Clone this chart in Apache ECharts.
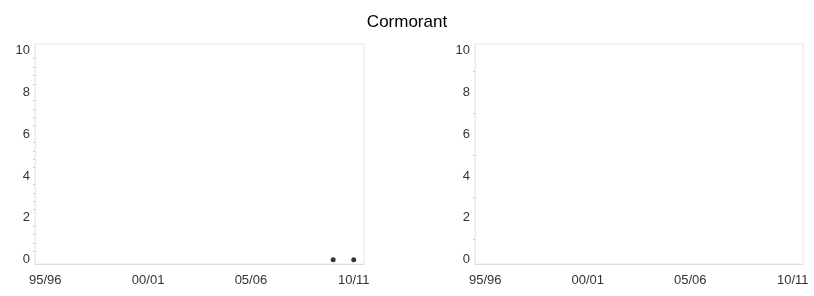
<!DOCTYPE html>
<html>
<head>
<meta charset="utf-8">
<script src="https://cdn.jsdelivr.net/npm/echarts@6/dist/echarts.min.js"></script>
<style>
  html, body { margin: 0; padding: 0; background: #fff; }
  #chart { width: 814px; height: 296px; }
</style>
</head>
<body>
<div id="chart"></div>
<script>
// seasons on the x axis
const seasons = ['95/96', '96/97', '97/98', '98/99', '99/00', '00/01', '01/02', '02/03',
  '03/04', '04/05', '05/06', '06/07', '07/08', '08/09', '09/10', '10/11'];
// counts per season (left panel has two points, right panel none)
const leftValues = [null, null, null, null, null, null, null, null,
  null, null, null, null, null, null, 0, 0];
const rightValues = [null, null, null, null, null, null, null, null,
  null, null, null, null, null, null, null, null];
const titleText = 'Cormorant';

const FONT = 'Liberation Sans, Arial, sans-serif';
const FRAME = '#e6e6e6';

const xAxisFor = (gridIndex) => ({
  type: 'category',
  gridIndex,
  data: seasons,
  boundaryGap: true,
  axisLine: { onZero: false, lineStyle: { color: '#dcdcdc' } },
  axisTick: { alignWithLabel: true, interval: 0, length: 3, lineStyle: { color: '#bbb' } },
  axisLabel: { interval: 4, color: '#333', fontSize: 13, fontFamily: FONT, margin: 10 },
  splitLine: { show: false }
});

const yAxisFor = (gridIndex, minorSplit) => ({
  type: 'value',
  gridIndex,
  min: -0.2,
  max: 10.3,
  axisLine: { show: true, lineStyle: { color: '#ececec' } },
  axisTick: { show: false },
  minorTick: { show: true, splitNumber: minorSplit, length: 2, lineStyle: { color: '#c8c8c8' } },
  axisLabel: {
    color: '#333', fontSize: 13, fontFamily: FONT, margin: 5,
    formatter: (v) => (Math.abs(v % 2) < 1e-9 ? String(v) : '')
  },
  splitLine: { show: false }
});

const chart = echarts.init(document.getElementById('chart'));
chart.setOption({
  animation: false,
  backgroundColor: '#fff',
  title: {
    text: titleText,
    left: 'center',
    top: 9,
    textStyle: { fontSize: 17, fontWeight: 'normal', color: '#000', fontFamily: FONT }
  },
  grid: [
    { left: 35, right: 450, top: 44, bottom: 32, show: true, borderColor: FRAME, borderWidth: 1 },
    { left: 475, right: 11, top: 44, bottom: 32, show: true, borderColor: FRAME, borderWidth: 1 }
  ],
  xAxis: [xAxisFor(0), xAxisFor(1)],
  yAxis: [yAxisFor(0, 5), yAxisFor(1, 2)],
  series: [
    {
      type: 'scatter', xAxisIndex: 0, yAxisIndex: 0,
      data: leftValues, symbolSize: 5,
      itemStyle: { color: '#000' }
    },
    {
      type: 'scatter', xAxisIndex: 1, yAxisIndex: 1,
      data: rightValues, symbolSize: 5,
      itemStyle: { color: '#000' }
    }
  ]
});
</script>
</body>
</html>
